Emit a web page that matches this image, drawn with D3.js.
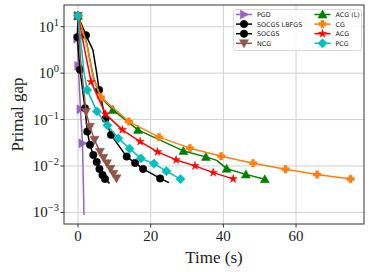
<!DOCTYPE html>
<html><head><meta charset="utf-8">
<script src="https://cdn.jsdelivr.net/npm/d3@7"></script>
<style>html,body{margin:0;padding:0;background:#fff;}svg{display:block;}</style>
</head><body>
<svg id="chart" width="371" height="272"></svg>
<script>
// ---- data ----
const seriesNames = ["PGD", "SOCGS LBFGS", "SOCGS", "NCG", "ACG (L)", "CG", "ACG", "PCG"];
const pgdX = [0, -0.2, 0.08, 0.69, 1.24, 1.65];
const pgdY = [17.2, 5.49, 1.44, 0.166, 0.0307, 0.000883];
const socgsLbfgsX = [0, -0.14, 0.55, 1.93, 2.56, 3.3, 4.2, 5.14, 5.9, 6.74, 7.43, 8.67];
const socgsLbfgsY = [17.2, 5.97, 1.18, 0.176, 0.0551, 0.0285, 0.0173, 0.01225, 0.00866, 0.00643, 0.00527, 0.00422];
const socgsX = [0, 2.2, 4.1, 5.1, 5.8, 7.57, 9.08, 13.4, 15.7, 17.9, 22.6, 25.0];
const socgsY = [17.2, 6.53, 3.18, 1.07, 0.436, 0.1035, 0.0468, 0.01595, 0.01166, 0.00866, 0.0054, 0.00439];
const ncgX = [0, 0.69, 2.2, 3.3, 4.54, 6.05, 7.0, 7.98, 8.94, 9.77, 10.6];
const ncgY = [17.2, 1.94, 0.1466, 0.0696, 0.0365, 0.0201, 0.01495, 0.01138, 0.00866, 0.00676, 0.0054];
const acgLX = [0, 2.4, 4.2, 6.05, 9.6, 16.5, 29.0, 35.2, 38.2, 40.9, 46.2, 51.4];
const acgLY = [17.2, 4.5, 0.845, 0.313, 0.162, 0.060, 0.0211, 0.0157, 0.0132, 0.00875, 0.00659, 0.0052];
const cgX = [0, 2.4, 4.2, 6.3, 14.0, 22.3, 30.8, 39.4, 48.2, 57.1, 65.8, 75.0];
const cgY = [17.2, 4.2, 0.8, 0.304, 0.0906, 0.0418, 0.0242, 0.01626, 0.0115, 0.00853, 0.00653, 0.00527];
const acgX = [0, 3.6, 7.6, 12.2, 17.1, 21.9, 27.0, 32.2, 37.2, 42.7];
const acgY = [17.2, 0.65, 0.131, 0.060, 0.0336, 0.0201, 0.0135, 0.01005, 0.0072, 0.00527];
const pcgX = [0, 1.65, 2.5, 5.2, 8.1, 11.1, 14.2, 17.3, 20.9, 24.3, 28.2];
const pcgY = [17.2, 1.07, 0.436, 0.150, 0.075, 0.0393, 0.0236, 0.0146, 0.0112, 0.00773, 0.00522];
const xTicks = [0, 20, 40, 60];
const yTickExps = [-3, -2, -1, 0, 1];

// ---- styles ----
const styles = [
  {color: "#9467bd", marker: "triRight", skip: [5]},
  {color: "#000000", marker: "circle", skip: [11]},
  {color: "#000000", marker: "circle", skip: [2, 3, 11]},
  {color: "#8c564b", marker: "triDown", skip: [1]},
  {color: "#008000", marker: "triUp", skip: [1, 2, 3, 8]},
  {color: "#ff7f0e", marker: "plus", skip: [1, 2]},
  {color: "#ff0000", marker: "star", skip: []},
  {color: "#00bfbf", marker: "diamond", skip: [1]}
];
const seriesX = [pgdX, socgsLbfgsX, socgsX, ncgX, acgLX, cgX, acgX, pcgX];
const seriesY = [pgdY, socgsLbfgsY, socgsY, ncgY, acgLY, cgY, acgY, pcgY];

const W = 371, H = 272;
const m = {l: 64, r: 7, t: 5, b: 48};
const svg = d3.select("#chart");
const x = d3.scaleLinear().domain([-3.85, 78.7]).range([m.l, W - m.r]);
const y = d3.scaleLog().domain([Math.pow(10, -3.25), Math.pow(10, 1.468)]).range([H - m.b, m.t]);

const serif = "'Liberation Serif', 'Times New Roman', serif";

// grid
const g = svg.append("g");
g.selectAll(".gx").data(xTicks).join("line")
  .attr("x1", d => x(d)).attr("x2", d => x(d)).attr("y1", m.t).attr("y2", H - m.b)
  .attr("stroke", "#d0d0d0").attr("stroke-width", 1);
g.selectAll(".gy").data(yTickExps).join("line")
  .attr("y1", d => y(Math.pow(10, d))).attr("y2", d => y(Math.pow(10, d)))
  .attr("x1", m.l).attr("x2", W - m.r)
  .attr("stroke", "#d0d0d0").attr("stroke-width", 1);

// symbols
function markerPath(type, s) {
  switch (type) {
    case "circle": return d3.symbol(d3.symbolCircle, Math.PI * s * s * 0.25)();
    case "diamond": { const r = s * 0.62; return `M0,${-r}L${r},0L0,${r}L${-r},0Z`; }
    case "triUp": { const r = s * 0.6; return `M0,${-r}L${r},${r * 0.8}L${-r},${r * 0.8}Z`; }
    case "triDown": { const r = s * 0.6; return `M0,${r}L${r},${-r * 0.8}L${-r},${-r * 0.8}Z`; }
    case "triRight": { const r = s * 0.6; return `M${r},0L${-r * 0.8},${r}L${-r * 0.8},${-r}Z`; }
    case "plus": { const a = s * 0.5, b = s * 0.2; return `M${-b},${-a}H${b}V${-b}H${a}V${b}H${b}V${a}H${-b}V${b}H${-a}V${-b}H${-b}Z`; }
    case "star": return d3.symbol(d3.symbolStar, s * s * 0.38)();
  }
}

const line = d3.line().x(d => x(d[0])).y(d => y(d[1]));
const plot = svg.append("g");
seriesNames.forEach((name, i) => {
  const pts = seriesX[i].map((v, j) => [v, seriesY[i][j], j]);
  const st = styles[i];
  plot.append("path").datum(pts).attr("d", line)
    .attr("fill", "none").attr("stroke", st.color).attr("stroke-width", 1.5)
    .attr("stroke-linejoin", "round");
  plot.selectAll(null).data(pts.filter(p => !st.skip.includes(p[2]))).join("path")
    .attr("d", markerPath(st.marker, 7.5))
    .attr("transform", p => `translate(${x(p[0])},${y(p[1])})`)
    .attr("fill", st.color).attr("stroke", st.color).attr("stroke-width", 0.5);
});

// frame
svg.append("rect").attr("x", m.l).attr("y", m.t).attr("width", W - m.r - m.l).attr("height", H - m.b - m.t)
  .attr("fill", "none").attr("stroke", "#333").attr("stroke-width", 1);

// x axis
const xa = svg.append("g").attr("transform", `translate(0,${H - m.b})`);
xTicks.forEach(t => {
  xa.append("line").attr("x1", x(t)).attr("x2", x(t)).attr("y1", 0).attr("y2", 3.5).attr("stroke", "#333");
  xa.append("text").attr("x", x(t)).attr("y", 17).attr("text-anchor", "middle")
    .style("font-family", serif).style("font-size", "15px").attr("fill", "#222").text(t);
});
svg.append("text").attr("x", (m.l + W - m.r) / 2).attr("y", 263).attr("text-anchor", "middle")
  .style("font-family", serif).style("font-size", "17px").attr("fill", "#222").text("Time (s)");

// y axis
const ya = svg.append("g");
yTickExps.forEach(e => {
  const yy = y(Math.pow(10, e));
  ya.append("line").attr("x1", m.l - 3.5).attr("x2", m.l).attr("y1", yy).attr("y2", yy).attr("stroke", "#333");
  const t = ya.append("text").attr("x", m.l - 5).attr("y", yy + 5).attr("text-anchor", "end")
    .style("font-family", serif).style("font-size", "15px").attr("fill", "#222");
  t.append("tspan").text("10");
  t.append("tspan").attr("dy", -6).style("font-size", "10.5px").text(e < 0 ? "\u2212" + (-e) : String(e));
});
svg.append("text").attr("transform", `translate(23,${(m.t + H - m.b) / 2}) rotate(-90)`)
  .attr("text-anchor", "middle").style("font-family", serif).style("font-size", "17px").attr("fill", "#222")
  .text("Primal gap");

// legend
const lg = svg.append("g");
lg.append("rect").attr("x", 233.5).attr("y", 9.5).attr("width", 128).attr("height", 41).attr("rx", 2)
  .attr("fill", "#fff").attr("fill-opacity", 0.85).attr("stroke", "#d8d8d8").attr("stroke-width", 1);
seriesNames.forEach((name, i) => {
  const col = Math.floor(i / 4), row = i % 4;
  const lx = col === 0 ? 236 : 314.5, ly = 14.5 + row * 9.6;
  const st = styles[i];
  lg.append("line").attr("x1", lx).attr("x2", lx + 16).attr("y1", ly).attr("y2", ly)
    .attr("stroke", st.color).attr("stroke-width", 1.5);
  lg.append("path").attr("d", markerPath(st.marker, 7.5)).attr("transform", `translate(${lx + 8},${ly})`)
    .attr("fill", st.color).attr("stroke", st.color).attr("stroke-width", 0.5);
  lg.append("text").attr("x", lx + 21).attr("y", ly + 2.4)
    .style("font-family", "'DejaVu Sans', sans-serif").style("font-size", "6.4px").attr("fill", "#222").text(name);
});
</script>
</body></html>
